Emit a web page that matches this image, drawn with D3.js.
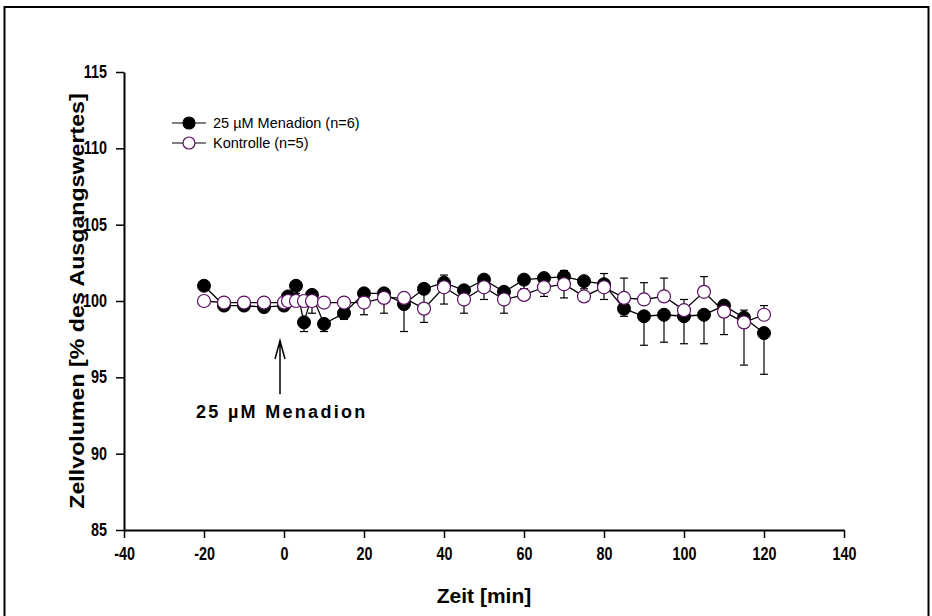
<!DOCTYPE html>
<html>
<head>
<meta charset="utf-8">
<script src="https://cdn.jsdelivr.net/npm/d3@7"></script>
<style>
    body { margin: 0; background: #fff; }
    svg { display: block; font-family: "Liberation Sans", Arial, sans-serif; }
</style>
</head>
<body>
<div id="chart"></div>
<script>
// time points (min)
const times = [-20, -15, -10, -5, 0, 1, 3, 5, 7, 10, 15, 20, 25, 30, 35, 40, 45, 50, 55, 60,
    65, 70, 75, 80, 85, 90, 95, 100, 105, 110, 115, 120];

// 25 µM Menadion (n=6), error bars drawn downwards
const menadion = [101.0, 99.7, 99.7, 99.6, 99.7, 100.3, 101.0, 98.6, 100.4, 98.5, 99.2, 100.5, 100.5, 99.8, 100.8, 101.2,
    100.7, 101.4, 100.6, 101.4, 101.5, 101.6, 101.3, 101.1, 99.5, 99.0, 99.1, 99.0, 99.1, 99.7, 98.9, 97.9];
const menadionErr = [0.3, 0.2, 0.2, 0.2, 0.2, 0.4, 0.5, 0.6, 1.2, 0.5, 0.4, 1.4, 1.3, 1.8, 2.2, 1.4,
    1.5, 1.3, 1.4, 1.0, 1.2, 1.4, 0.5, 1.0, 0.5, 1.9, 1.8, 1.8, 1.9, 1.9, 3.1, 2.7];

// Kontrolle (n=5), error bars drawn upwards
const kontrolle = [100.0, 99.9, 99.9, 99.9, 99.9, 100.0, 100.0, 100.0, 100.0, 99.9, 99.9, 99.9, 100.2, 100.2, 99.5, 100.9,
    100.1, 100.9, 100.1, 100.4, 100.9, 101.1, 100.3, 100.9, 100.2, 100.1, 100.3, 99.4, 100.6, 99.3, 98.6, 99.1];
const kontrolleErr = [0.2, 0.1, 0.1, 0.1, 0.1, 0.1, 0.1, 0.1, 0.1, 0.1, 0.2, 0.3, 0.3, 0.3, 0.3, 0.8,
    0.4, 0.4, 0.4, 0.4, 0.4, 0.9, 0.3, 0.9, 1.3, 1.1, 1.2, 0.7, 1.0, 0.3, 0.8, 0.6];

const xTicks = [-40, -20, 0, 20, 40, 60, 80, 100, 120, 140];
const yTicks = [85, 90, 95, 100, 105, 110, 115];

const width = 932, height = 616;
const margin = {top: 72, right: 88, bottom: 86, left: 124};

const svg = d3.select("#chart")
    .append("svg")
    .attr("width", width)
    .attr("height", height);

// frame around the figure
svg.append("rect")
    .attr("x", 4.5)
    .attr("y", 7)
    .attr("width", 924)
    .attr("height", 700)
    .attr("fill", "none")
    .attr("stroke", "black")
    .attr("stroke-width", 2);

const x = d3.scaleLinear()
    .domain([-40, 140])
    .range([margin.left, width - margin.right]);

const y = d3.scaleLinear()
    .domain([85, 115])
    .range([height - margin.bottom, margin.top]);

// axes (plain hyphen for negatives, like the original)
const xAxis = svg.append("g")
    .attr("transform", "translate(0," + y(85) + ")")
    .call(d3.axisBottom(x).tickValues(xTicks).tickFormat(d => String(d))
        .tickSize(8).tickPadding(10).tickSizeOuter(0));
const yAxis = svg.append("g")
    .attr("transform", "translate(" + x(-40) + ",0)")
    .call(d3.axisLeft(y).tickValues(yTicks).tickFormat(d => String(d))
        .tickSize(8).tickPadding(9).tickSizeOuter(0));

[xAxis, yAxis].forEach(ax => {
    ax.select(".domain").attr("stroke-width", 2);
    ax.selectAll(".tick line").attr("stroke-width", 1.5);
    ax.selectAll(".tick text")
        .attr("font-size", 17.5)
        .attr("font-weight", "bold")
        .attr("font-family", "Liberation Sans, Arial, sans-serif")
        .attr("fill", "black");
});
// the original labels are tall and narrow
xAxis.selectAll(".tick text").attr("transform", "scale(0.82,1)");
yAxis.selectAll(".tick text")
    .attr("transform", "translate(-17,0) scale(0.82,1)")
    .attr("x", 0);

// axis titles
svg.append("text")
    .attr("x", x(50))
    .attr("y", 603)
    .attr("text-anchor", "middle")
    .attr("font-size", 21)
    .attr("font-weight", "bold")
    .text("Zeit [min]");

svg.append("text")
    .attr("transform", "translate(84," + y(100) + ") rotate(-90) scale(1.19,1)")
    .attr("text-anchor", "middle")
    .attr("font-size", 19.5)
    .attr("font-weight", "bold")
    .text("Zellvolumen [% des Ausgangswertes]");

const menData = times.map((t, i) => ({t: t, v: menadion[i], e: menadionErr[i]}));
const konData = times.map((t, i) => ({t: t, v: kontrolle[i], e: kontrolleErr[i]}));

const line = d3.line()
    .x(d => x(d.t))
    .y(d => y(d.v));

function drawErrors(data, dir) {
    const g = svg.append("g").attr("stroke", "black").attr("stroke-width", 1.2);
    g.selectAll("line.bar")
        .data(data)
        .enter()
        .append("line")
        .attr("x1", d => x(d.t))
        .attr("x2", d => x(d.t))
        .attr("y1", d => y(d.v))
        .attr("y2", d => y(d.v + dir * d.e));
    g.selectAll("line.cap")
        .data(data)
        .enter()
        .append("line")
        .attr("x1", d => x(d.t) - 4)
        .attr("x2", d => x(d.t) + 4)
        .attr("y1", d => y(d.v + dir * d.e))
        .attr("y2", d => y(d.v + dir * d.e));
}

drawErrors(menData, -1);
drawErrors(konData, 1);

svg.append("path")
    .datum(menData)
    .attr("fill", "none")
    .attr("stroke", "black")
    .attr("stroke-width", 1.3)
    .attr("d", line);

svg.append("path")
    .datum(konData)
    .attr("fill", "none")
    .attr("stroke", "black")
    .attr("stroke-width", 1.3)
    .attr("d", line);

svg.append("g")
    .selectAll("circle")
    .data(menData)
    .enter()
    .append("circle")
    .attr("cx", d => x(d.t))
    .attr("cy", d => y(d.v))
    .attr("r", 6.5)
    .attr("fill", "black")
    .attr("stroke", "black");

svg.append("g")
    .selectAll("circle")
    .data(konData)
    .enter()
    .append("circle")
    .attr("cx", d => x(d.t))
    .attr("cy", d => y(d.v))
    .attr("r", 6.5)
    .attr("fill", "white")
    .attr("stroke", "#5a1060")
    .attr("stroke-width", 1.2);

// legend
const legend = [
    {label: "25 µM Menadion (n=6)", fill: "black", stroke: "black"},
    {label: "Kontrolle (n=5)", fill: "white", stroke: "#5a1060"}
];
legend.forEach((d, i) => {
    const ly = 123 + i * 20;
    svg.append("line")
        .attr("x1", 172).attr("x2", 206)
        .attr("y1", ly).attr("y2", ly)
        .attr("stroke", "black").attr("stroke-width", 1.2);
    svg.append("circle")
        .attr("cx", 189).attr("cy", ly).attr("r", 6)
        .attr("fill", d.fill).attr("stroke", d.stroke).attr("stroke-width", 1.2);
    svg.append("text")
        .attr("x", 213).attr("y", ly + 5)
        .attr("font-size", 14.5)
        .text(d.label);
});

// arrow annotation at time of addition
const ax0 = x(-1);
svg.append("path")
    .attr("d", "M" + ax0 + "," + y(93.9) + "V" + y(97.4)
        + "M" + (ax0 - 5) + "," + y(96.2) + "L" + ax0 + "," + y(97.4) + "L" + (ax0 + 5) + "," + y(96.2))
    .attr("fill", "none")
    .attr("stroke", "black")
    .attr("stroke-width", 1.5);

svg.append("text")
    .attr("x", x(-22))
    .attr("y", 418)
    .attr("font-size", 18)
    .attr("font-weight", "bold")
    .attr("letter-spacing", 2.3)
    .text("25 µM Menadion");
</script>
</body>
</html>
